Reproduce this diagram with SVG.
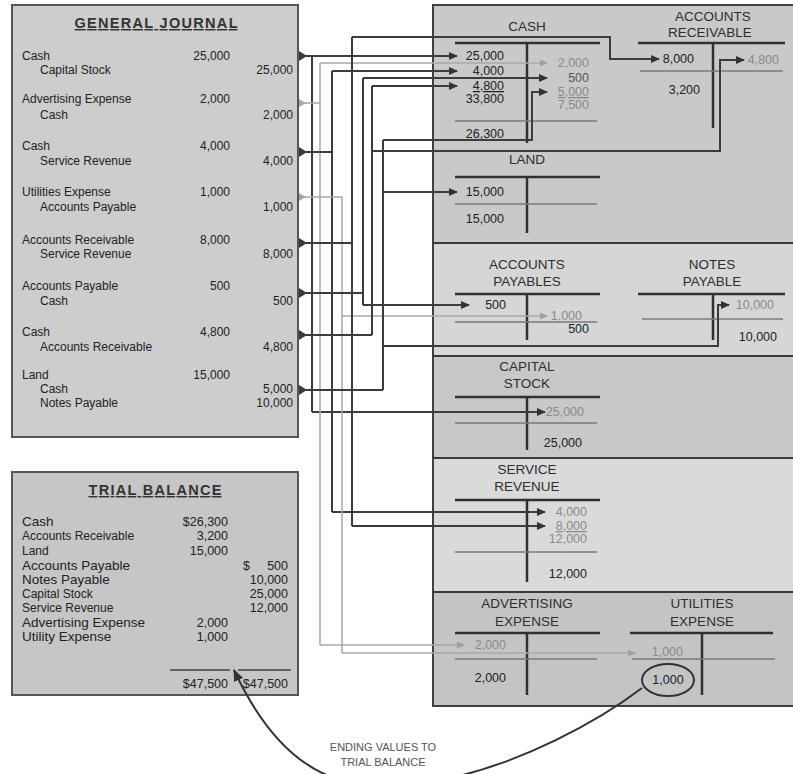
<svg xmlns="http://www.w3.org/2000/svg" width="793" height="774" viewBox="0 0 793 774">
<defs>
<style>
text{font-family:"Liberation Sans",Arial,sans-serif;fill:#222}
.j{font-size:12px}
.jt{font-size:14.5px;font-weight:bold;text-decoration:underline;fill:#333}
.tb{font-size:13.5px}
.ts{font-size:12px}
.tn{font-size:12.5px;text-anchor:end}
.e{text-anchor:end}
.n{font-size:12.5px}
.lg{fill:#8a8a8a}
.h{font-size:13.5px;text-anchor:middle;fill:#2e2e2e}
.u{text-decoration:underline}
.box{stroke:#555;stroke-width:2}
.sec{stroke:#3a3a3a;stroke-width:2}
.tl{stroke:#303030;stroke-width:2.5;fill:none}
.ul{stroke:#7a7a7a;stroke-width:1.5;fill:none}
.dk{stroke:#3c3c3c;stroke-width:2;fill:none}
.lt{stroke:#a8a8a8;stroke-width:1.5;fill:none}
.dka{stroke:#3c3c3c;stroke-width:2;fill:none;marker-end:url(#ad)}
.lta{stroke:#a8a8a8;stroke-width:1.5;fill:none;marker-end:url(#al)}
.tri{fill:#3a3a3a}
.tril{fill:#a8a8a8}
</style>
<marker id="ad" markerWidth="9" markerHeight="8" refX="8" refY="4" orient="auto" markerUnits="userSpaceOnUse"><path d="M0,0 L9,4 L0,8 z" fill="#333"/></marker>
<marker id="al" markerWidth="8" markerHeight="7" refX="7" refY="3.5" orient="auto" markerUnits="userSpaceOnUse"><path d="M0,0 L8,3.5 L0,7 z" fill="#a0a0a0"/></marker>
<marker id="ac" markerWidth="12" markerHeight="10" refX="11" refY="5" orient="auto" markerUnits="userSpaceOnUse"><path d="M0,0 L12,5 L0,10 z" fill="#333"/></marker>
</defs>
<rect width="793" height="774" fill="#ffffff"/>

<g id="general-journal">
<rect class="box" x="12" y="5" width="286" height="432" fill="#cdcdcd"/>
<text class="jt" x="156" y="28" text-anchor="middle" textLength="163">GENERAL JOURNAL</text>
<g class="j">
<text x="22" y="60">Cash</text><text class="e" x="230" y="60">25,000</text>
<text x="40" y="74">Capital Stock</text><text class="e" x="293" y="74">25,000</text>
<text x="22" y="103">Advertising Expense</text><text class="e" x="230" y="103">2,000</text>
<text x="40" y="119">Cash</text><text class="e" x="293" y="119">2,000</text>
<text x="22" y="150">Cash</text><text class="e" x="230" y="150">4,000</text>
<text x="40" y="165">Service Revenue</text><text class="e" x="293" y="165">4,000</text>
<text x="22" y="196">Utilities Expense</text><text class="e" x="230" y="196">1,000</text>
<text x="40" y="211">Accounts Payable</text><text class="e" x="293" y="211">1,000</text>
<text x="22" y="244">Accounts Receivable</text><text class="e" x="230" y="244">8,000</text>
<text x="40" y="258">Service Revenue</text><text class="e" x="293" y="258">8,000</text>
<text x="22" y="290">Accounts Payable</text><text class="e" x="230" y="290">500</text>
<text x="40" y="305">Cash</text><text class="e" x="293" y="305">500</text>
<text x="22" y="336">Cash</text><text class="e" x="230" y="336">4,800</text>
<text x="40" y="351">Accounts Receivable</text><text class="e" x="293" y="351">4,800</text>
<text x="22" y="379">Land</text><text class="e" x="230" y="379">15,000</text>
<text x="40" y="393">Cash</text><text class="e" x="293" y="393">5,000</text>
<text x="40" y="407">Notes Payable</text><text class="e" x="293" y="407">10,000</text>
</g>
</g>

<g id="trial-balance">
<rect class="box" x="12" y="472" width="286" height="223" fill="#c6c6c6"/>
<text x="155" y="495" font-size="14.5" font-weight="bold" text-anchor="middle" text-decoration="underline" textLength="133" style="fill:#333">TRIAL BALANCE</text>
<text class="tb" x="22" y="526">Cash</text><text class="tn" x="228" y="526">$26,300</text>
<text class="ts" x="22" y="540">Accounts Receivable</text><text class="tn" x="228" y="540">3,200</text>
<text class="ts" x="22" y="555">Land</text><text class="tn" x="228" y="555">15,000</text>
<text class="tb" x="22" y="570">Accounts Payable</text><text class="tn" x="250" y="570">$</text><text class="tn" x="288" y="570">500</text>
<text class="tb" x="22" y="584">Notes Payable</text><text class="tn" x="288" y="584">10,000</text>
<text class="ts" x="22" y="598">Capital Stock</text><text class="tn" x="288" y="598">25,000</text>
<text class="ts" x="22" y="612">Service Revenue</text><text class="tn" x="288" y="612">12,000</text>
<text class="tb" x="22" y="627">Advertising Expense</text><text class="tn" x="228" y="627">2,000</text>
<text class="tb" x="22" y="641">Utility Expense</text><text class="tn" x="228" y="641">1,000</text>
<line x1="170" y1="670" x2="230" y2="670" stroke="#444" stroke-width="1.5"/>
<line x1="238" y1="670" x2="291" y2="670" stroke="#444" stroke-width="1.5"/>
<text class="tn" x="228" y="688">$47,500</text><text class="tn" x="288" y="688">$47,500</text>
</g>

<g id="ledger-panel">
<rect x="433" y="5" width="365" height="238" fill="#c9c9c9"/>
<rect x="433" y="243" width="365" height="113" fill="#d6d6d6"/>
<rect x="433" y="356" width="365" height="102" fill="#c8c8c8"/>
<rect x="433" y="458" width="365" height="134" fill="#dadada"/>
<rect x="433" y="592" width="365" height="114" fill="#c4c4c4"/>
<rect x="433" y="5" width="365" height="701" fill="none" stroke="#404040" stroke-width="2"/>
<line class="sec" x1="433" y1="243" x2="793" y2="243"/>
<line class="sec" x1="433" y1="356" x2="793" y2="356"/>
<line class="sec" x1="433" y1="458" x2="793" y2="458"/>
<line class="sec" x1="433" y1="592" x2="793" y2="592"/>
</g>

<g id="t-cash">
<text class="h" x="527" y="31">CASH</text>
<path class="tl" d="M455,43 H600 M527,43 V143"/>
<path class="ul" d="M455,121 H597"/>
<g class="n">
<text class="e" x="504" y="60">25,000</text>
<text class="e" x="504" y="75">4,000</text>
<text class="e u" x="504" y="90">4,800</text>
<text class="e" x="504" y="103">33,800</text>
<text class="e" x="504" y="138">26,300</text>
<text class="e lg" x="589" y="67">2,000</text>
<text class="e" x="589" y="82" style="fill:#555">500</text>
<text class="e lg u" x="589" y="96">5,000</text>
<text class="e lg" x="589" y="109">7,500</text>
</g>
</g>

<g id="t-accounts-receivable">
<text class="h" x="713" y="21">ACCOUNTS</text>
<text class="h" x="710" y="37">RECEIVABLE</text>
<path class="tl" d="M638,43 H785 M713,43 V128"/>
<path class="ul" d="M640,71 H783"/>
<g class="n">
<text class="e" x="694" y="63">8,000</text>
<text class="e" x="700" y="94">3,200</text>
<text class="e lg" x="779" y="64">4,800</text>
</g>
</g>

<g id="t-land">
<text class="h" x="527" y="164">LAND</text>
<path class="tl" d="M455,177 H600 M527,177 V233"/>
<path class="ul" d="M455,204 H597"/>
<g class="n">
<text class="e" x="504" y="196">15,000</text>
<text class="e" x="504" y="223">15,000</text>
</g>
</g>

<g id="t-accounts-payable">
<text class="h" x="527" y="269">ACCOUNTS</text>
<text class="h" x="527" y="286">PAYABLES</text>
<path class="tl" d="M455,294 H600 M527,294 V340"/>
<path class="ul" d="M455,322 H597"/>
<g class="n">
<text class="e" x="506" y="309">500</text>
<text class="e lg" x="582" y="320">1,000</text>
<text class="e" x="589" y="333">500</text>
</g>
</g>

<g id="t-notes-payable">
<text class="h" x="712" y="269">NOTES</text>
<text class="h" x="712" y="286">PAYABLE</text>
<path class="tl" d="M638,294 H785 M713,294 V340"/>
<path class="ul" d="M642,319 H783"/>
<g class="n">
<text class="e lg" x="774" y="309">10,000</text>
<text class="e" x="777" y="341">10,000</text>
</g>
</g>

<g id="t-capital-stock">
<text class="h" x="527" y="371">CAPITAL</text>
<text class="h" x="527" y="388">STOCK</text>
<path class="tl" d="M455,397 H600 M527,397 V450"/>
<path class="ul" d="M455,423 H597"/>
<g class="n">
<text class="e lg" x="584" y="416">25,000</text>
<text class="e" x="582" y="447">25,000</text>
</g>
</g>

<g id="t-service-revenue">
<text class="h" x="527" y="474">SERVICE</text>
<text class="h" x="527" y="491">REVENUE</text>
<path class="tl" d="M455,500 H600 M527,500 V582"/>
<path class="ul" d="M455,552 H597"/>
<g class="n">
<text class="e lg" x="587" y="516">4,000</text>
<text class="e lg u" x="587" y="530">8,000</text>
<text class="e lg" x="587" y="543">12,000</text>
<text class="e" x="587" y="578">12,000</text>
</g>
</g>

<g id="t-advertising-expense">
<text class="h" x="527" y="608">ADVERTISING</text>
<text class="h" x="527" y="626">EXPENSE</text>
<path class="tl" d="M455,633 H600 M527,633 V695"/>
<path class="ul" d="M455,659 H597"/>
<g class="n">
<text class="e lg" x="506" y="649">2,000</text>
<text class="e" x="506" y="682">2,000</text>
</g>
</g>

<g id="t-utilities-expense">
<text class="h" x="702" y="608">UTILITIES</text>
<text class="h" x="702" y="626">EXPENSE</text>
<path class="tl" d="M630,633 H773 M702,633 V695"/>
<path class="ul" d="M632,659 H775"/>
<g class="n">
<text class="e lg" x="683" y="656">1,000</text>
<text x="668" y="684" text-anchor="middle">1,000</text>
</g>
<ellipse cx="668" cy="680" rx="26" ry="16" fill="none" stroke="#333" stroke-width="2"/>
</g>

<g id="connectors">
<polygon class="tri" points="299,51 307,56 299,61"/>
<polygon class="tril" points="299,99 306,103 299,107"/>
<polygon class="tri" points="299,147 307,152 299,157"/>
<polygon class="tril" points="299,193 306,197 299,201"/>
<polygon class="tri" points="299,238 307,243 299,248"/>
<polygon class="tri" points="299,288 307,293 299,298"/>
<polygon class="tri" points="299,330 307,335 299,340"/>
<polygon class="tri" points="299,385 307,390 299,395"/>

<path class="dka" d="M300,56 H457"/>
<path class="dk" d="M312,56 V412"/>
<path class="dka" d="M312,412 H545"/>

<path class="lt" d="M300,103 H320 M320,63 V645"/>
<path class="lta" d="M320,63 H547"/>
<path class="lta" d="M320,645 H464"/>

<path class="dk" d="M300,152 H332 M332,71 V512"/>
<path class="dka" d="M332,71 H457"/>
<path class="dka" d="M332,512 H545"/>

<path class="lt" d="M300,197 H342 M342,197 V653"/>
<path class="lta" d="M342,316 H547"/>
<path class="lta" d="M342,653 H635"/>

<path class="dk" d="M300,243 H352 M352,37 V526"/>
<path class="dka" d="M352,37 H610 V59 H659"/>
<path class="dka" d="M352,526 H545"/>

<path class="dk" d="M300,293 H363 M363,78 V305"/>
<path class="dka" d="M363,78 H547"/>
<path class="dka" d="M363,305 H469"/>

<path class="dk" d="M300,335 H372 M372,86 V335"/>
<path class="dka" d="M372,86 H457"/>
<path class="dka" d="M372,151 H720 V60 H744"/>

<path class="dk" d="M300,390 H383 M383,140 V390"/>
<path class="dka" d="M383,140 H532 V92 H547"/>
<path class="dka" d="M383,192 H457"/>
<path class="dka" d="M383,346 H718 V305 H729"/>
</g>

<g id="ending-values-annotation">
<path d="M642,688 C600,720 520,765 440,780 C360,795 290,790 234,670" fill="none" stroke="#333" stroke-width="2" marker-end="url(#ac)"/>
<text x="383" y="751" font-size="11" text-anchor="middle" style="fill:#555">ENDING VALUES TO</text>
<text x="383" y="766" font-size="11" text-anchor="middle" style="fill:#555">TRIAL BALANCE</text>
</g>
</svg>
